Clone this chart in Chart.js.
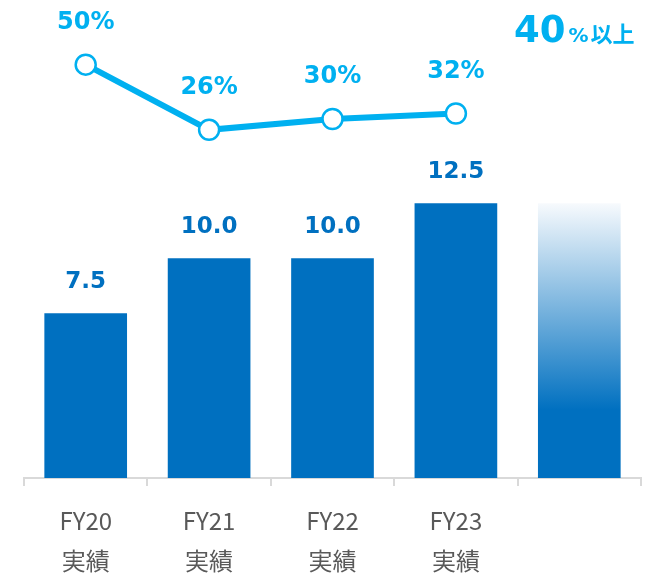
<!DOCTYPE html>
<html>
<head>
<meta charset="utf-8">
<script src="https://cdn.jsdelivr.net/npm/chart.js@4.4.1/dist/chart.umd.min.js"></script>
<style>
  html, body { margin: 0; padding: 0; background: #ffffff; }
  #wrap { width: 655px; height: 574px; position: relative; }
</style>
</head>
<body>
<div id="wrap"><canvas id="c" width="655" height="574"></canvas></div>
<script>
// ---- data ----
const categories = [['FY20', '実績'], ['FY21', '実績'], ['FY22', '実績'], ['FY23', '実績'], ''];
const barValues = [7.5, 10.0, 10.0, 12.5, 12.5];
const barLabels = ['7.5', '10.0', '10.0', '12.5', ''];
const ratioValues = [50, 26, 30, 32, null];
const ratioLabels = ['50%', '26%', '30%', '32%', ''];
const targetMain = '40';
const targetSuffix = '%以上';

const BAR_COLOR = '#0070C0';
const LINE_COLOR = '#00B0F0';

function barColor(ctx) {
  if (ctx.dataIndex !== 4) return BAR_COLOR;
  const chart = ctx.chart;
  const y = chart.scales && chart.scales.y;
  if (!y || !chart.chartArea) return BAR_COLOR;
  const top = y.getPixelForValue(barValues[4]);
  const solid = y.getPixelForValue(3.1);
  const g = chart.ctx.createLinearGradient(0, top, 0, solid);
  g.addColorStop(0, '#f7fafd');
  g.addColorStop(1, BAR_COLOR);
  return g;
}

const labelPlugin = {
  id: 'valueLabels',
  afterDatasetsDraw(chart) {
    const ctx = chart.ctx;
    ctx.save();
    ctx.textAlign = 'center';
    ctx.textBaseline = 'middle';
    // bar labels
    const barMeta = chart.getDatasetMeta(0);
    ctx.fillStyle = BAR_COLOR;
    ctx.font = 'bold 23px "DejaVu Sans"';
    barMeta.data.forEach((el, i) => {
      if (!barLabels[i]) return;
      ctx.fillText(barLabels[i], el.x, el.y - 31);
    });
    // line labels
    const lineMeta = chart.getDatasetMeta(1);
    ctx.fillStyle = LINE_COLOR;
    ctx.font = 'bold 24px "DejaVu Sans"';
    lineMeta.data.forEach((el, i) => {
      if (!ratioLabels[i] || ratioValues[i] == null) return;
      ctx.fillText(ratioLabels[i], el.x, el.y - 42);
    });
    // target text
    ctx.textAlign = 'left';
    ctx.textBaseline = 'alphabetic';
    ctx.font = 'bold 37px "DejaVu Sans"';
    const x0 = 514;
    const base = 42;
    ctx.fillText(targetMain, x0, base);
    const w = ctx.measureText(targetMain).width;
    ctx.font = 'bold 20px "DejaVu Sans"';
    ctx.fillText(targetSuffix.slice(0, 1), x0 + w + 3, base);
    const wp = ctx.measureText(targetSuffix.slice(0, 1)).width;
    ctx.font = 'bold 22px "Noto Sans CJK JP"';
    ctx.fillText(targetSuffix.slice(1), x0 + w + 3 + wp + 2, base);
    ctx.restore();
  }
};

new Chart(document.getElementById('c'), {
  data: {
    labels: categories,
    datasets: [
      {
        type: 'bar',
        data: barValues,
        backgroundColor: barColor,
        borderWidth: 0,
        barPercentage: 0.67,
        categoryPercentage: 1.0,
        yAxisID: 'y',
        order: 2
      },
      {
        type: 'line',
        data: ratioValues,
        borderColor: LINE_COLOR,
        borderWidth: 6,
        pointRadius: 10,
        pointBorderWidth: 2.5,
        pointBackgroundColor: '#ffffff',
        pointBorderColor: LINE_COLOR,
        tension: 0,
        yAxisID: 'y2',
        order: 1,
        clip: false
      }
    ]
  },
  options: {
    responsive: false,
    animation: false,
    devicePixelRatio: 1,
    layout: { padding: { left: 24, right: 14, top: 10, bottom: 0 } },
    plugins: { legend: { display: false }, tooltip: { enabled: false } },
    scales: {
      x: {
        offset: true,
        grid: {
          offset: true,
          drawOnChartArea: false,
          drawTicks: true,
          tickLength: 8,
          color: '#d9d9d9',
          lineWidth: 2
        },
        border: { display: true, color: '#d9d9d9', width: 2 },
        ticks: {
          color: '#595959',
          padding: 14,
          maxRotation: 0,
          autoSkip: false,
          font: { family: '"Noto Sans CJK JP", "Noto Sans"', size: 24, lineHeight: 1.7 }
        },
        afterFit(scale) { scale.height = 96; }
      },
      y: {
        display: false,
        min: 0,
        max: 21.18
      },
      y2: {
        display: false,
        min: -102.2,
        max: 69.2
      }
    }
  },
  plugins: [labelPlugin]
});
</script>
</body>
</html>
